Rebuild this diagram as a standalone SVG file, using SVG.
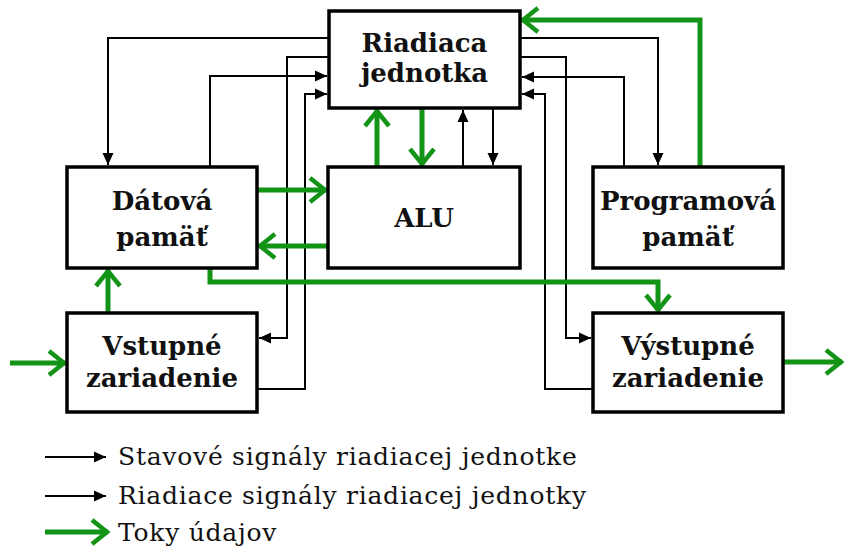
<svg xmlns="http://www.w3.org/2000/svg" width="844" height="549" viewBox="0 0 844 549">
  <defs>
    <marker id="ab" markerUnits="userSpaceOnUse" markerWidth="13" markerHeight="12" viewBox="0 0 13 12" refX="12" refY="6" orient="auto">
      <path d="M0,0.5 L12,6 L0,11.5 z" fill="#000"/>
    </marker>
    <marker id="ag" markerUnits="userSpaceOnUse" markerWidth="22" markerHeight="28" viewBox="0 0 22 28" refX="19" refY="14" orient="auto">
      <path d="M3,2 L18,14 L3,26" fill="none" stroke="#139417" stroke-width="4.5"/>
    </marker>
    <style>
      .box{fill:#fff;stroke:#000;stroke-width:3.5}
      .lbl{font-family:"DejaVu Serif",serif;font-weight:bold;font-size:26px;text-anchor:middle;fill:#111}
      .bk{fill:none;stroke:#000;stroke-width:2;marker-end:url(#ab)}
      .gr{fill:none;stroke:#139417;stroke-width:5;marker-end:url(#ag)}
      .leg{font-family:"DejaVu Serif",serif;font-size:25px;letter-spacing:0.75px;fill:#111}
    </style>
  </defs>
  <rect width="844" height="549" fill="#fff"/>
  <g id="connectors">
    <path class="bk" d="M329,38 H108 V165"/>
    <path class="bk" d="M210,167 V76 H327"/>
    <path class="bk" d="M329,57 H287 V338 H259"/>
    <path class="bk" d="M257,389 H305 V94 H327"/>
    <path class="bk" d="M463,167 V110"/>
    <path class="bk" d="M493,108 V165"/>
    <path class="bk" d="M520,38 H658 V165"/>
    <path class="bk" d="M520,57 H566 V338 H591"/>
    <path class="bk" d="M624,167 V77 H522"/>
    <path class="bk" d="M593,389 H545 V94 H522"/>
    <path class="gr" d="M377,167 V110"/>
    <path class="gr" d="M422,108 V165"/>
    <path class="gr" d="M257,190 H326"/>
    <path class="gr" d="M328,246 H259"/>
    <path class="gr" d="M210,268 V282 H658 V311"/>
    <path class="gr" d="M108,313 V270"/>
    <path class="gr" d="M10,363 H65"/>
    <path class="gr" d="M783,362 H842"/>
    <path class="gr" d="M700,167 V20 H522"/>
  </g>
  <g id="riadiaca">
    <rect class="box" x="329" y="11" width="191" height="97"/>
    <text class="lbl" x="424.5" y="52">Riadiaca</text>
    <text class="lbl" x="424.5" y="82">jednotka</text>
  </g>
  <g id="datova">
    <rect class="box" x="67" y="167" width="190" height="101"/>
    <text class="lbl" x="162" y="210">Dátová</text>
    <text class="lbl" x="162" y="246">pamäť</text>
  </g>
  <g id="alu">
    <rect class="box" x="328" y="167" width="192" height="101"/>
    <text class="lbl" x="424" y="227">ALU</text>
  </g>
  <g id="programova">
    <rect class="box" x="593" y="167" width="190" height="101"/>
    <text class="lbl" x="688" y="210">Programová</text>
    <text class="lbl" x="688" y="246">pamäť</text>
  </g>
  <g id="vstupne">
    <rect class="box" x="67" y="313" width="190" height="99"/>
    <text class="lbl" x="162" y="355">Vstupné</text>
    <text class="lbl" x="162" y="387">zariadenie</text>
  </g>
  <g id="vystupne">
    <rect class="box" x="593" y="313" width="190" height="99"/>
    <text class="lbl" x="688" y="355">Výstupné</text>
    <text class="lbl" x="688" y="387">zariadenie</text>
  </g>
  <g id="legend">
    <path class="bk" d="M45,457 H106"/>
    <path class="bk" d="M45,496 H106"/>
    <path class="gr" d="M45,532 H108"/>
    <text class="leg" x="118" y="465">Stavové signály riadiacej jednotke</text>
    <text class="leg" x="118" y="504">Riadiace signály riadiacej jednotky</text>
    <text class="leg" x="118" y="541">Toky údajov</text>
  </g>
</svg>
